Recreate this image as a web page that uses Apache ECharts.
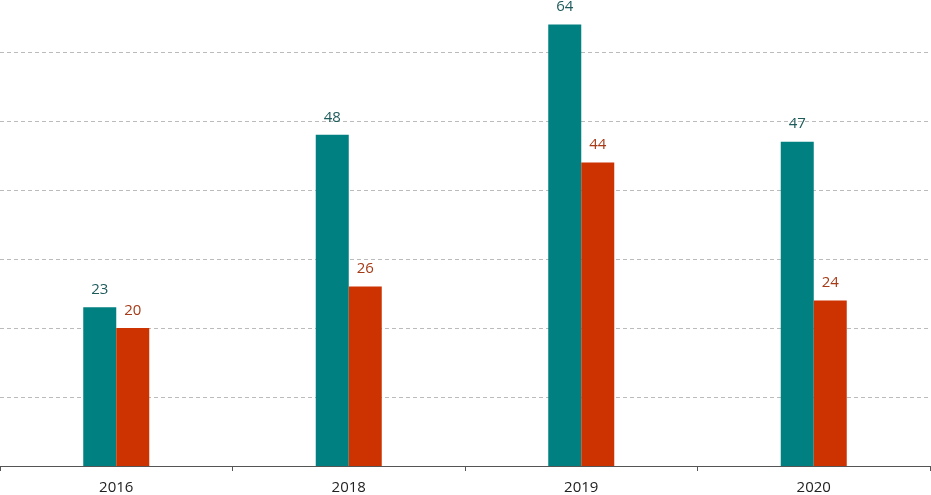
<!DOCTYPE html>
<html><head><meta charset="utf-8">
<script src="https://cdn.jsdelivr.net/npm/echarts@6/dist/echarts.min.js"></script>
<style>html,body{margin:0;padding:0;background:#fff}#c{width:931px;height:495px}</style>
</head><body><div id="c"></div>
<script>
const categories = ['2016', '2018', '2019', '2020'];
const seriesA = [23, 48, 64, 47];
const seriesB = [20, 26, 44, 24];
const chart = echarts.init(document.getElementById('c'), null, {renderer: 'canvas'});
chart.setOption({
  animation: false,
  grid: {left: 0, right: 1, top: 52, bottom: 27, containLabel: false},
  xAxis: {
    type: 'category', data: categories,
    axisLine: {lineStyle: {color: '#555', width: 1}},
    axisTick: {show: true, length: 5, lineStyle: {color: '#555'}},
    axisLabel: {color: '#222', fontFamily: 'Open Sans', fontSize: 15, margin: 14}
  },
  yAxis: {
    type: 'value', min: 0, max: 60, interval: 10,
    axisLabel: {show: false}, axisLine: {show: false}, axisTick: {show: false},
    splitLine: {lineStyle: {color: '#bbb', type: [4, 3], width: 1}}
  },
  series: [
    {type: 'bar', data: seriesA, barWidth: 33, barGap: '0%', clip: false,
     itemStyle: {color: '#008080'},
     label: {show: true, position: 'top', distance: 10, color: '#1E5B5B', fontFamily: 'Open Sans', fontSize: 15}},
    {type: 'bar', data: seriesB, barWidth: 33, barGap: '0%', clip: false,
     itemStyle: {color: '#CC3300'},
     label: {show: true, position: 'top', distance: 10, color: '#A63A16', fontFamily: 'Open Sans', fontSize: 15}}
  ]
});
</script></body></html>
